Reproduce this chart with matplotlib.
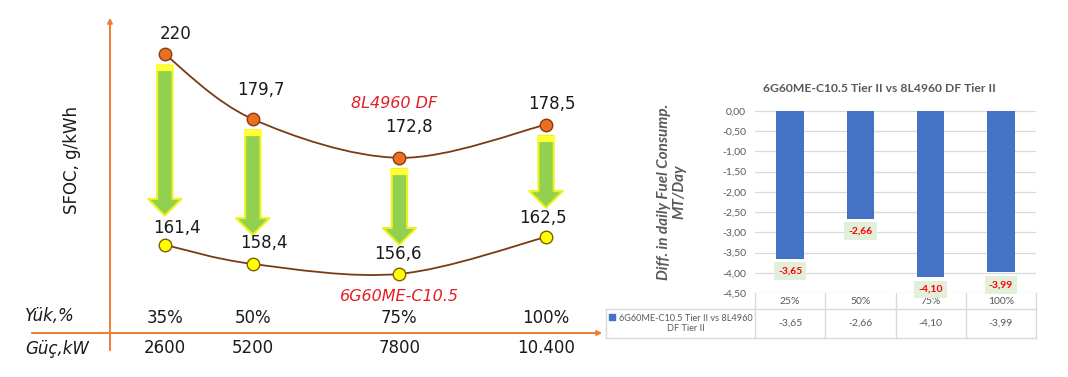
import numpy as np
import matplotlib
matplotlib.use('Agg')
import matplotlib.pyplot as plt
import matplotlib.transforms as mtransforms
from matplotlib.path import Path
from matplotlib.patches import PathPatch

# left panel: SFOC (g/kWh) per engine load
load_pct = [35, 50, 75, 100]
load_labels = ['35%', '50%', '75%', '100%']
power_labels = ['2600', '5200', '7800', '10.400']
sfoc_df = [220, 179.7, 172.8, 178.5]      # 8L4960 DF
sfoc_me = [161.4, 158.4, 156.6, 162.5]    # 6G60ME-C10.5

# right panel: difference in daily fuel consumption (MT/day)
diff_cats = ['25%', '50%', '75%', '100%']
diff_vals = [-3.65, -2.66, -4.10, -3.99]

W, H = 1068, 377
RIGHT_FONT = ['Lato', 'DejaVu Sans']
plt.rcParams['font.family'] = ['DejaVu Sans']


def fmt1(v):
    return '{:g}'.format(v).replace('.', ',')


def fmt2(v):
    s = '{:.2f}'.format(v).replace('.', ',')
    return '0,00' if s == '-0,00' else s


# schematic (non-linear) SFOC axis like the original sketch: stretched around 167
MID, SPREAD = 167.0, 14.0
def fwd(v):
    return np.arctan((np.asarray(v, float) - MID) / SPREAD)
def inv(t):
    t = np.clip(np.asarray(t, float), -1.5707, 1.5707)
    return MID + SPREAD * np.tan(t)


def smooth_path(xs, ys):
    """Catmull-Rom style smoothed line (like excel's smooth line) as bezier path"""
    P = np.column_stack([np.asarray(xs, float), fwd(ys)])
    Pe = np.vstack([P[0], P, P[-1]])
    verts = [P[0]]
    codes = [Path.MOVETO]
    for i in range(len(P) - 1):
        p0, p1, p2, p3 = Pe[i], Pe[i + 1], Pe[i + 2], Pe[i + 3]
        verts += [p1 + (p2 - p0) / 6., p2 - (p3 - p1) / 6., p2]
        codes += [Path.CURVE4] * 3
    verts = np.array(verts)
    verts[:, 1] = inv(verts[:, 1])
    return Path(verts, codes)


fig = plt.figure(figsize=(W / 100., H / 100.), dpi=100)
fig.patch.set_facecolor('white')

# ---------------- left panel ----------------
ax1 = fig.add_axes([0, 1 - 300. / H, 610. / W, 260. / H])
ax1.set_yscale('function', functions=(fwd, inv))
ax1.set_xlim(6.9, 110.9)
ax1.set_ylim(150.37, 273.4)
ax1.set_axis_off()

orange = '#ED7D31'
ax1.annotate('', xy=(110. / W, 1 - 15. / H), xytext=(110. / W, 1 - 353. / H), xycoords='figure fraction',
             arrowprops=dict(arrowstyle='-|>', color=orange, lw=1.4, mutation_scale=7))
ax1.annotate('', xy=(605. / W, 1 - 333. / H), xytext=(29. / W, 1 - 333. / H), xycoords='figure fraction',
             arrowprops=dict(arrowstyle='-|>', color=orange, lw=1.4, mutation_scale=7))

brown = '#7A3A12'
ax1.add_patch(PathPatch(smooth_path(load_pct, sfoc_df), fc='none', ec=brown, lw=1.3, zorder=2))
ax1.add_patch(PathPatch(smooth_path(load_pct, sfoc_me), fc='none', ec=brown, lw=1.3, zorder=2))

# green arrows from DF to ME values
band = mtransforms.offset_copy(ax1.transData, fig=fig, x=0, y=-10, units='points')
for x, a, b in zip(load_pct, sfoc_df, sfoc_me):
    ax1.annotate('', xy=(x, b), xytext=(x, a),
                 arrowprops=dict(arrowstyle='simple,head_length=12,head_width=24,tail_width=11',
                                 mutation_scale=1, fc='#92D050', ec='#EEF21C', lw=1.5,
                                 shrinkA=8, shrinkB=21), zorder=3)
    ax1.plot([x], [a], marker='_', ms=13, mew=4.5, color='#FFFF33', transform=band, zorder=3.5)

ax1.plot(load_pct, sfoc_df, 'o', ms=9, mfc='#E8701E', mec='#8A3B12', mew=1, zorder=5)
ax1.plot(load_pct, sfoc_me, 'o', ms=9, mfc='#FFFF00', mec='#7F6000', mew=1, zorder=5)

df_offsets = [(8, 15), (6, 21), (7, 22), (4, 15)]
me_offsets = [(9, 12), (8, 15), (-1, 14), (-2, 14)]
for x, v, o in zip(load_pct, sfoc_df, df_offsets):
    ax1.annotate(fmt1(v), xy=(x, v), xytext=o, textcoords='offset points',
                 ha='center', va='center', fontsize=12, color='#1A1A1A', zorder=6)
for x, v, o in zip(load_pct, sfoc_me, me_offsets):
    ax1.annotate(fmt1(v), xy=(x, v), xytext=o, textcoords='offset points',
                 ha='center', va='center', fontsize=12, color='#1A1A1A', zorder=6)

red = '#E41E26'
ax1.annotate('8L4960 DF', xy=(75, sfoc_df[2]), xytext=(-4, 39), textcoords='offset points',
             ha='center', va='center', fontsize=11.5, style='italic', color=red)
ax1.annotate('6G60ME-C10.5', xy=(75, sfoc_me[2]), xytext=(0, -16), textcoords='offset points',
             ha='center', va='center', fontsize=11.5, style='italic', color=red)

ax1.text(72. / W, 1 - 160. / H, 'SFOC, g/kWh', transform=fig.transFigure, rotation=90,
         ha='center', va='center', fontsize=12, color='#1A1A1A')

bt = mtransforms.blended_transform_factory(ax1.transData, fig.transFigure)
for x, l, p in zip(load_pct, load_labels, power_labels):
    ax1.text(x, 1 - 318. / H, l, transform=bt, ha='center', va='center', fontsize=12, color='#1A1A1A')
    ax1.text(x, 1 - 348. / H, p, transform=bt, ha='center', va='center', fontsize=12, color='#1A1A1A')
ax1.text(25. / W, 1 - 316. / H, 'Yük,%', transform=fig.transFigure, ha='left', va='center',
         fontsize=12, style='italic', color='#1A1A1A')
ax1.text(25. / W, 1 - 349. / H, 'Güç,kW', transform=fig.transFigure, ha='left', va='center',
         fontsize=12, style='italic', color='#1A1A1A')

# ---------------- right panel ----------------
ax2 = fig.add_axes([755. / W, 1 - 293. / H, 281. / W, 182. / H])
xs = np.arange(len(diff_cats))
ax2.bar(xs, diff_vals, width=0.39, color='#4472C4', zorder=3)
ax2.set_xlim(-0.5, 3.5)
ax2.set_ylim(-4.5, 0)
yt = np.arange(-4.5, 0.001, 0.5)
ax2.set_yticks(yt)
ax2.set_yticklabels([fmt2(v) for v in yt])
for lbl in ax2.get_yticklabels():
    lbl.set_fontfamily(RIGHT_FONT)
ax2.tick_params(axis='y', length=0, pad=6.5, labelsize=7.5, labelcolor='#595959')
ax2.set_xticks([])
ax2.grid(axis='y', color='#D9D9D9', lw=0.9, zorder=0)
ax2.set_axisbelow(True)
for s in ax2.spines.values():
    s.set_visible(False)

for xi, v in zip(xs, diff_vals):
    ax2.annotate(fmt2(v), xy=(xi, v), xytext=(0, -9), textcoords='offset points',
                 ha='center', va='center', fontsize=7.5, fontweight='bold', color='#FF0000',
                 family=RIGHT_FONT, zorder=5,
                 bbox=dict(boxstyle='square,pad=0.4', fc='#E2EFDA', ec='none'))

# data table under the chart
tb = mtransforms.blended_transform_factory(ax2.transData, ax2.transAxes)
px = 70.25  # pixels per category
row1 = -16. / 182
row2 = -45. / 182
xleft = -0.5 - 149. / px
tcol = '#D9D9D9'
for yy in [row1, row2]:
    ax2.plot([xleft, 3.5], [yy, yy], color=tcol, lw=1, transform=tb, clip_on=False)
ax2.plot([xleft, xleft], [row1, row2], color=tcol, lw=1, transform=tb, clip_on=False)
for xx in np.arange(-0.5, 3.6, 1):
    ax2.plot([xx, xx], [0, row2], color=tcol, lw=1, transform=tb, clip_on=False)
for xi, c, v in zip(xs, diff_cats, diff_vals):
    ax2.text(xi, row1 / 2, c, transform=tb, ha='center', va='center', fontsize=7.5,
             color='#595959', family=RIGHT_FONT)
    ax2.text(xi, (row1 + row2) / 2, fmt2(v), transform=tb, ha='center', va='center',
             fontsize=7.5, color='#595959', family=RIGHT_FONT)
ax2.plot([-0.5 - 143. / px], [-24. / 182], 's', ms=4, color='#4472C4', transform=tb, clip_on=False)
ax2.text(-0.5 - 69. / px, -30.5 / 182, '6G60ME-C10.5 Tier II vs 8L4960\nDF Tier II', transform=tb,
         ha='center', va='center', multialignment='center', fontsize=6.6, color='#595959',
         family=RIGHT_FONT, linespacing=1.2)

fig.text(879. / W, 1 - 88. / H, '6G60ME-C10.5 Tier II vs 8L4960 DF Tier II', ha='center', va='center',
         fontsize=8.7, fontweight='bold', color='#595959', family=RIGHT_FONT)
fig.text(672. / W, 1 - 192. / H, 'Diff. in daily Fuel Consump.\nMT/Day', rotation=90,
         ha='center', va='center', multialignment='center', fontsize=11, fontweight='bold',
         style='italic', color='#595959', family=RIGHT_FONT, linespacing=1.15)

fig.savefig('out.png', dpi=100, facecolor='white')
